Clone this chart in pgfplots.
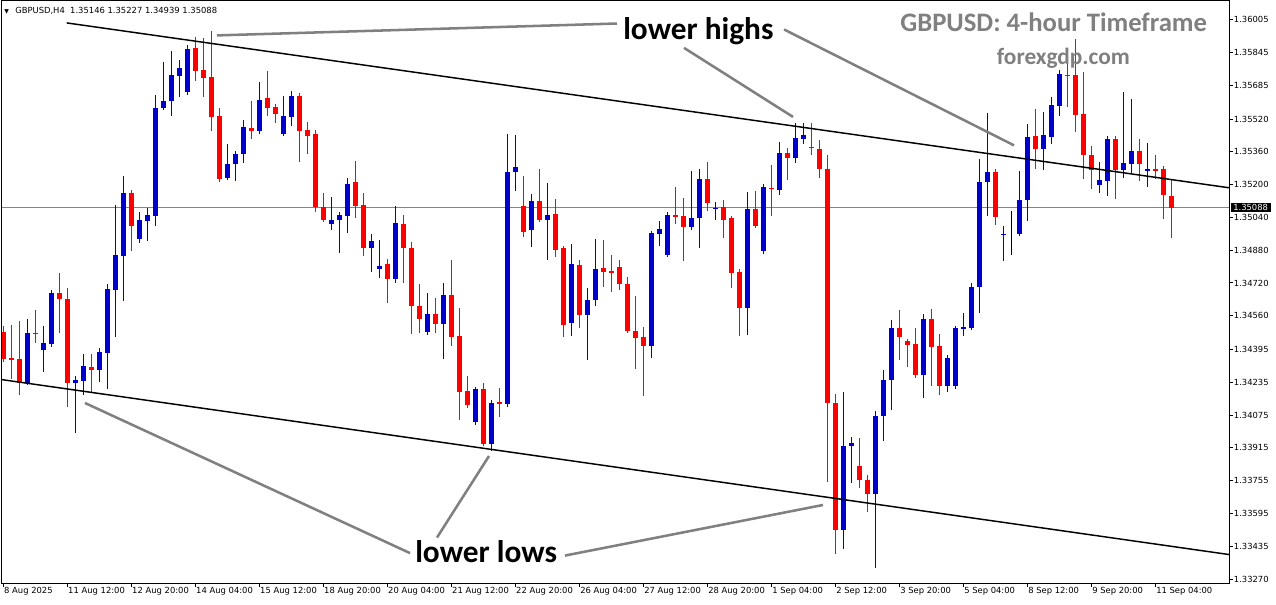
\documentclass[border=0pt]{standalone}
\usepackage{pgfplots}
\pgfplotsset{compat=1.18}
\usepackage{pgfplotstable}
\usepackage{fontspec}
\newfontfamily\dejavu{DejaVu Sans}
\newfontfamily\carlito{Carlito}
\definecolor{bull}{RGB}{0,0,205}
\definecolor{bear}{RGB}{255,0,0}
\definecolor{bidline}{RGB}{119,136,153}
\definecolor{annot}{RGB}{128,128,128}
\newcommand\tickfont{\dejavu\fontsize{6.3pt}{7pt}\selectfont}

\pgfplotstableread{
k o h l c d
0 1.34480 1.34512 1.34339 1.34348 -1
1 1.34354 1.34515 1.34251 1.34343 -1
2 1.34348 1.34533 1.34172 1.34230 -1
3 1.34234 1.34542 1.34230 1.34475 1
4 1.34476 1.34586 1.34427 1.34475 -1
5 1.34392 1.34512 1.34287 1.34427 1
6 1.34424 1.34686 1.34406 1.34669 1
7 1.34669 1.34769 1.34477 1.34644 -1
8 1.34644 1.34697 1.34116 1.34230 -1
9 1.34230 1.34265 1.33987 1.34246 1
10 1.34243 1.34375 1.34172 1.34317 1
11 1.34310 1.34375 1.34190 1.34295 -1
12 1.34295 1.34401 1.34237 1.34383 1
13 1.34380 1.34713 1.34202 1.34691 1
14 1.34688 1.35102 1.34457 1.34859 1
15 1.34850 1.35242 1.34630 1.35161 1
16 1.35161 1.35167 1.34876 1.34996 -1
17 1.34934 1.35065 1.34917 1.35026 1
18 1.35022 1.35084 1.34926 1.35052 1
19 1.35049 1.35638 1.34996 1.35575 1
20 1.35575 1.35800 1.35563 1.35610 1
21 1.35607 1.35853 1.35536 1.35735 1
22 1.35733 1.35809 1.35628 1.35770 1
23 1.35651 1.35883 1.35645 1.35865 1
24 1.35867 1.35920 1.35707 1.35756 -1
25 1.35760 1.35915 1.35628 1.35721 -1
26 1.35726 1.35950 1.35462 1.35531 -1
27 1.35536 1.35575 1.35211 1.35228 -1
28 1.35234 1.35399 1.35228 1.35299 1
29 1.35299 1.35360 1.35219 1.35351 1
30 1.35351 1.35515 1.35307 1.35482 1
31 1.35475 1.35610 1.35425 1.35464 -1
32 1.35462 1.35702 1.35455 1.35612 1
33 1.35624 1.35756 1.35536 1.35575 -1
34 1.35580 1.35593 1.35501 1.35545 -1
35 1.35448 1.35633 1.35443 1.35536 1
36 1.35531 1.35658 1.35487 1.35633 1
37 1.35633 1.35649 1.35311 1.35462 -1
38 1.35468 1.35506 1.35350 1.35439 -1
39 1.35448 1.35469 1.35066 1.35091 -1
40 1.35091 1.35161 1.35017 1.35029 -1
41 1.35008 1.35140 1.34977 1.35026 1
42 1.35029 1.35066 1.34867 1.35052 1
43 1.35049 1.35234 1.34964 1.35205 1
44 1.35211 1.35316 1.35035 1.35096 -1
45 1.35102 1.35161 1.34853 1.34892 -1
46 1.34892 1.34961 1.34776 1.34926 1
47 1.34790 1.34931 1.34744 1.34802 1
48 1.34815 1.34837 1.34621 1.34741 -1
49 1.34741 1.35096 1.34718 1.35014 1
50 1.35008 1.35052 1.34718 1.34889 -1
51 1.34890 1.34920 1.34473 1.34607 -1
52 1.34607 1.34713 1.34477 1.34542 -1
53 1.34480 1.34670 1.34478 1.34568 1
54 1.34568 1.34647 1.34477 1.34521 -1
55 1.34521 1.34721 1.34348 1.34661 1
56 1.34661 1.34832 1.34413 1.34457 -1
57 1.34463 1.34598 1.34053 1.34190 -1
58 1.34193 1.34265 1.34111 1.34125 -1
59 1.34040 1.34205 1.34031 1.34202 1
60 1.34202 1.34234 1.33926 1.33935 -1
61 1.33935 1.34149 1.33899 1.34134 1
62 1.34139 1.34207 1.34067 1.34130 -1
63 1.34128 1.35448 1.34119 1.35263 1
64 1.35260 1.35443 1.35170 1.35286 1
65 1.35096 1.35242 1.34947 1.34971 -1
66 1.34977 1.35154 1.34897 1.35121 1
67 1.35121 1.35278 1.35021 1.35029 -1
68 1.35029 1.35209 1.34832 1.35052 1
69 1.35058 1.35130 1.34845 1.34883 -1
70 1.34889 1.34903 1.34457 1.34515 -1
71 1.34524 1.34910 1.34463 1.34815 1
72 1.34809 1.34832 1.34498 1.34565 -1
73 1.34565 1.34695 1.34346 1.34637 1
74 1.34635 1.34934 1.34607 1.34788 1
75 1.34792 1.34931 1.34700 1.34776 -1
76 1.34779 1.34859 1.34677 1.34771 -1
77 1.34799 1.34830 1.34688 1.34713 -1
78 1.34714 1.34750 1.34480 1.34486 -1
79 1.34486 1.34656 1.34301 1.34449 -1
80 1.34456 1.34505 1.34167 1.34413 -1
81 1.34413 1.34973 1.34355 1.34964 1
82 1.34961 1.35022 1.34903 1.34984 1
83 1.34859 1.35065 1.34857 1.35052 1
84 1.35052 1.35190 1.35008 1.35043 -1
85 1.35047 1.35135 1.34829 1.34991 -1
86 1.34991 1.35267 1.34977 1.35038 1
87 1.35035 1.35278 1.34892 1.35228 1
88 1.35228 1.35311 1.35073 1.35112 -1
89 1.35085 1.35117 1.35029 1.35088 1
90 1.35089 1.35123 1.34941 1.35029 -1
91 1.35035 1.35038 1.34697 1.34771 -1
92 1.34774 1.34776 1.34463 1.34600 -1
93 1.34600 1.35164 1.34468 1.35082 1
94 1.35082 1.35170 1.34996 1.34999 -1
95 1.34876 1.35193 1.34873 1.35190 1
96 1.35183 1.35295 1.35049 1.35182 -1
97 1.35175 1.35410 1.35151 1.35355 1
98 1.35355 1.35380 1.35225 1.35332 -1
99 1.35332 1.35501 1.35307 1.35429 1
100 1.35422 1.35501 1.35401 1.35443 1
101 1.35385 1.35501 1.35346 1.35378 -1
102 1.35374 1.35418 1.35232 1.35276 -1
103 1.35278 1.35343 1.33750 1.34132 -1
104 1.34134 1.34178 1.33398 1.33512 -1
105 1.33516 1.34190 1.33419 1.33926 1
106 1.33922 1.33970 1.33745 1.33940 1
107 1.33827 1.33965 1.33718 1.33759 -1
108 1.33759 1.33780 1.33604 1.33688 -1
109 1.33688 1.34097 1.33327 1.34072 1
110 1.34072 1.34295 1.33947 1.34246 1
111 1.34248 1.34540 1.34098 1.34500 1
112 1.34500 1.34586 1.34343 1.34454 -1
113 1.34436 1.34445 1.34308 1.34419 -1
114 1.34422 1.34501 1.34255 1.34269 -1
115 1.34269 1.34568 1.34160 1.34544 1
116 1.34544 1.34593 1.34216 1.34406 -1
117 1.34410 1.34471 1.34172 1.34216 -1
118 1.34216 1.34369 1.34186 1.34355 1
119 1.34216 1.34505 1.34214 1.34498 1
120 1.34493 1.34574 1.34463 1.34507 1
121 1.34501 1.34721 1.34494 1.34700 1
122 1.34700 1.35325 1.34572 1.35214 1
123 1.35214 1.35550 1.35049 1.35263 1
124 1.35263 1.35269 1.35005 1.35043 -1
125 1.34959 1.34999 1.34827 1.34961 1
126 1.34964 1.35061 1.34867 1.34964 0
127 1.34961 1.35267 1.34955 1.35126 1
128 1.35123 1.35497 1.35021 1.35432 1
129 1.35438 1.35568 1.35278 1.35376 -1
130 1.35376 1.35556 1.35272 1.35443 1
131 1.35431 1.35628 1.35401 1.35589 1
132 1.35584 1.35761 1.35533 1.35739 1
133 1.35737 1.35827 1.35577 1.35735 -1
134 1.35735 1.35909 1.35457 1.35542 -1
135 1.35545 1.35751 1.35228 1.35346 -1
136 1.35344 1.35390 1.35181 1.35272 -1
137 1.35200 1.35311 1.35161 1.35225 1
138 1.35219 1.35429 1.35147 1.35424 1
139 1.35424 1.35438 1.35131 1.35272 -1
140 1.35272 1.35654 1.35235 1.35306 1
141 1.35302 1.35619 1.35255 1.35366 1
142 1.35366 1.35425 1.35216 1.35302 -1
143 1.35269 1.35404 1.35190 1.35278 1
144 1.35276 1.35346 1.35227 1.35269 -1
145 1.35278 1.35280 1.35033 1.35149 -1
146 1.35146 1.35227 1.34939 1.35088 -1
}\candles

\pgfplotsset{
  candle/.style={draw=none, mark=none, no markers},
}

\begin{document}
\begin{tikzpicture}
\fill[white] (-1.5pt,-15.75pt) rectangle (955.5pt,437.25pt);
\begin{axis}[
  at={(0,0)}, anchor=south west,
  scale only axis, width=920.25pt, height=436.5pt,
  xmin=-0.1625, xmax=153.21, ymin=1.33255, ymax=1.36097,
  axis line style={line width=0.75pt},
  clip mode=individual,
  xtick={0,8,...,144},
  xticklabels={8 Aug 2025,11 Aug 12:00,12 Aug 20:00,14 Aug 04:00,15 Aug 12:00,18 Aug 20:00,20 Aug 04:00,21 Aug 12:00,22 Aug 20:00,26 Aug 04:00,27 Aug 12:00,28 Aug 20:00,1 Sep 04:00,2 Sep 12:00,3 Sep 20:00,5 Sep 04:00,8 Sep 12:00,9 Sep 20:00,11 Sep 04:00},
  ytick={1.33270,1.33435,1.33595,1.33755,1.33915,1.34075,1.34235,1.34395,1.34560,1.34720,1.34880,1.35040,1.35200,1.35360,1.35520,1.35685,1.35845,1.36005},
  yticklabels={1.33270,1.33435,1.33595,1.33755,1.33915,1.34075,1.34235,1.34395,1.34560,1.34720,1.34880,1.35040,1.35200,1.35360,1.35520,1.35685,1.35845,1.36005},
  xtick pos=bottom, ytick pos=right, yticklabel pos=right,
  tick align=outside, major tick length=3pt,
  tick style={black, line width=0.75pt},
  xticklabel style={font=\tickfont, anchor=north west, inner sep=0pt, xshift=0.5pt},
  yticklabel style={font=\tickfont, anchor=west, inner sep=0pt, xshift=0.5pt},
  scaled y ticks=false,
]
% bid line
\addplot[bidline, line width=0.75pt] coordinates {(-0.1625,1.35088) (153.21,1.35088)};

% bullish wicks
\addplot[candle, restrict expr to domain={\thisrow{d}}{0.5:1.5},
  error bars/.cd, y dir=both, y explicit, error mark=none,
  error bar style={draw=bull, line width=0.75pt, solid}]
  table[x=k, y=o, y error plus expr=\thisrow{h}-\thisrow{o}, y error minus expr=\thisrow{o}-\thisrow{l}] {\candles};
% bearish wicks
\addplot[candle, restrict expr to domain={\thisrow{d}}{-1.5:-0.5},
  error bars/.cd, y dir=both, y explicit, error mark=none,
  error bar style={draw=bear, line width=0.75pt, solid}]
  table[x=k, y=o, y error plus expr=\thisrow{h}-\thisrow{o}, y error minus expr=\thisrow{o}-\thisrow{l}] {\candles};
% doji wicks
\addplot[candle, restrict expr to domain={\thisrow{d}}{-0.5:0.5},
  error bars/.cd, y dir=both, y explicit, error mark=-,
  error mark options={draw=black, line width=0.75pt, mark size=1.875pt},
  error bar style={draw=black, line width=0.75pt, solid}]
  table[x=k, y=o, y error plus expr=\thisrow{h}-\thisrow{o}, y error minus expr=\thisrow{o}-\thisrow{l}] {\candles};
% bullish bodies
\addplot[candle, restrict expr to domain={\thisrow{d}}{0.5:1.5},
  error bars/.cd, y dir=both, y explicit, error mark=-,
  error mark options={draw=bull, line width=0.75pt, mark size=1.875pt},
  error bar style={draw=bull, line width=3.75pt, solid}]
  table[x=k, y=o, y error plus expr=\thisrow{c}-\thisrow{o}, y error minus expr=0] {\candles};
% bearish bodies
\addplot[candle, restrict expr to domain={\thisrow{d}}{-1.5:-0.5},
  error bars/.cd, y dir=both, y explicit, error mark=-,
  error mark options={draw=bear, line width=0.75pt, mark size=1.875pt},
  error bar style={draw=bear, line width=3.75pt, solid}]
  table[x=k, y=o, y error plus expr=0, y error minus expr=\thisrow{o}-\thisrow{c}] {\candles};

% trend lines
\addplot[black, line width=1.1pt] coordinates {(7.925,1.35990) (153.21,1.35185)};
\addplot[black, line width=1.1pt] coordinates {(-0.1625,1.34248) (153.21,1.33394)};

% annotation pointers
\addplot[annot, line width=1.9pt] coordinates {(26.71,1.35929) (76.71,1.35987)};
\addplot[annot, line width=1.9pt] coordinates {(85.09,1.35868) (98.71,1.35531)};
\addplot[annot, line width=1.9pt] coordinates {(97.59,1.35958) (126.34,1.35392)};
\addplot[annot, line width=1.9pt] coordinates {(10.21,1.34134) (50.84,1.33401)};
\addplot[annot, line width=1.9pt] coordinates {(60.71,1.33875) (54.21,1.33477)};
\addplot[annot, line width=1.9pt] coordinates {(70.21,1.33389) (102.46,1.33636)};

% texts
\node[anchor=base west, inner sep=0pt, font=\carlito\bfseries\fontsize{23.5pt}{26pt}\selectfont] at (axis cs:77.46,1.35909) {lower highs};
\node[anchor=base west, inner sep=0pt, font=\carlito\bfseries\fontsize{23.5pt}{26pt}\selectfont] at (axis cs:51.46,1.33355) {lower lows};
\node[anchor=base west, inner sep=0pt, text=annot, font=\carlito\bfseries\fontsize{20pt}{22pt}\selectfont] at (axis cs:112.09,1.35947) {GBPUSD: 4-hour Timeframe};
\node[anchor=base west, inner sep=0pt, text=annot, font=\carlito\bfseries\fontsize{17.5pt}{20pt}\selectfont] at (axis cs:124.17,1.35788) {forexgdp.com};

\node[anchor=base west, inner sep=0pt, font=\dejavu\fontsize{4.5pt}{5pt}\selectfont] at (axis cs:0.09,1.36036) {▼};
\node[anchor=base west, inner sep=0pt, font=\tickfont] at (axis cs:1.4625,1.36036) {GBPUSD,H4\ \ 1.35146 1.35227 1.34939 1.35088};

% bid price label
\node[anchor=west, fill=black, text=white, inner xsep=2pt, inner ysep=1.2pt, xshift=1pt, font=\tickfont] at (axis cs:153.21,1.35088) {1.35088};
\end{axis}
\pgfresetboundingbox
\path[use as bounding box] (-1.5pt,-15.75pt) rectangle (955.5pt,437.25pt);
\end{tikzpicture}
\end{document}
